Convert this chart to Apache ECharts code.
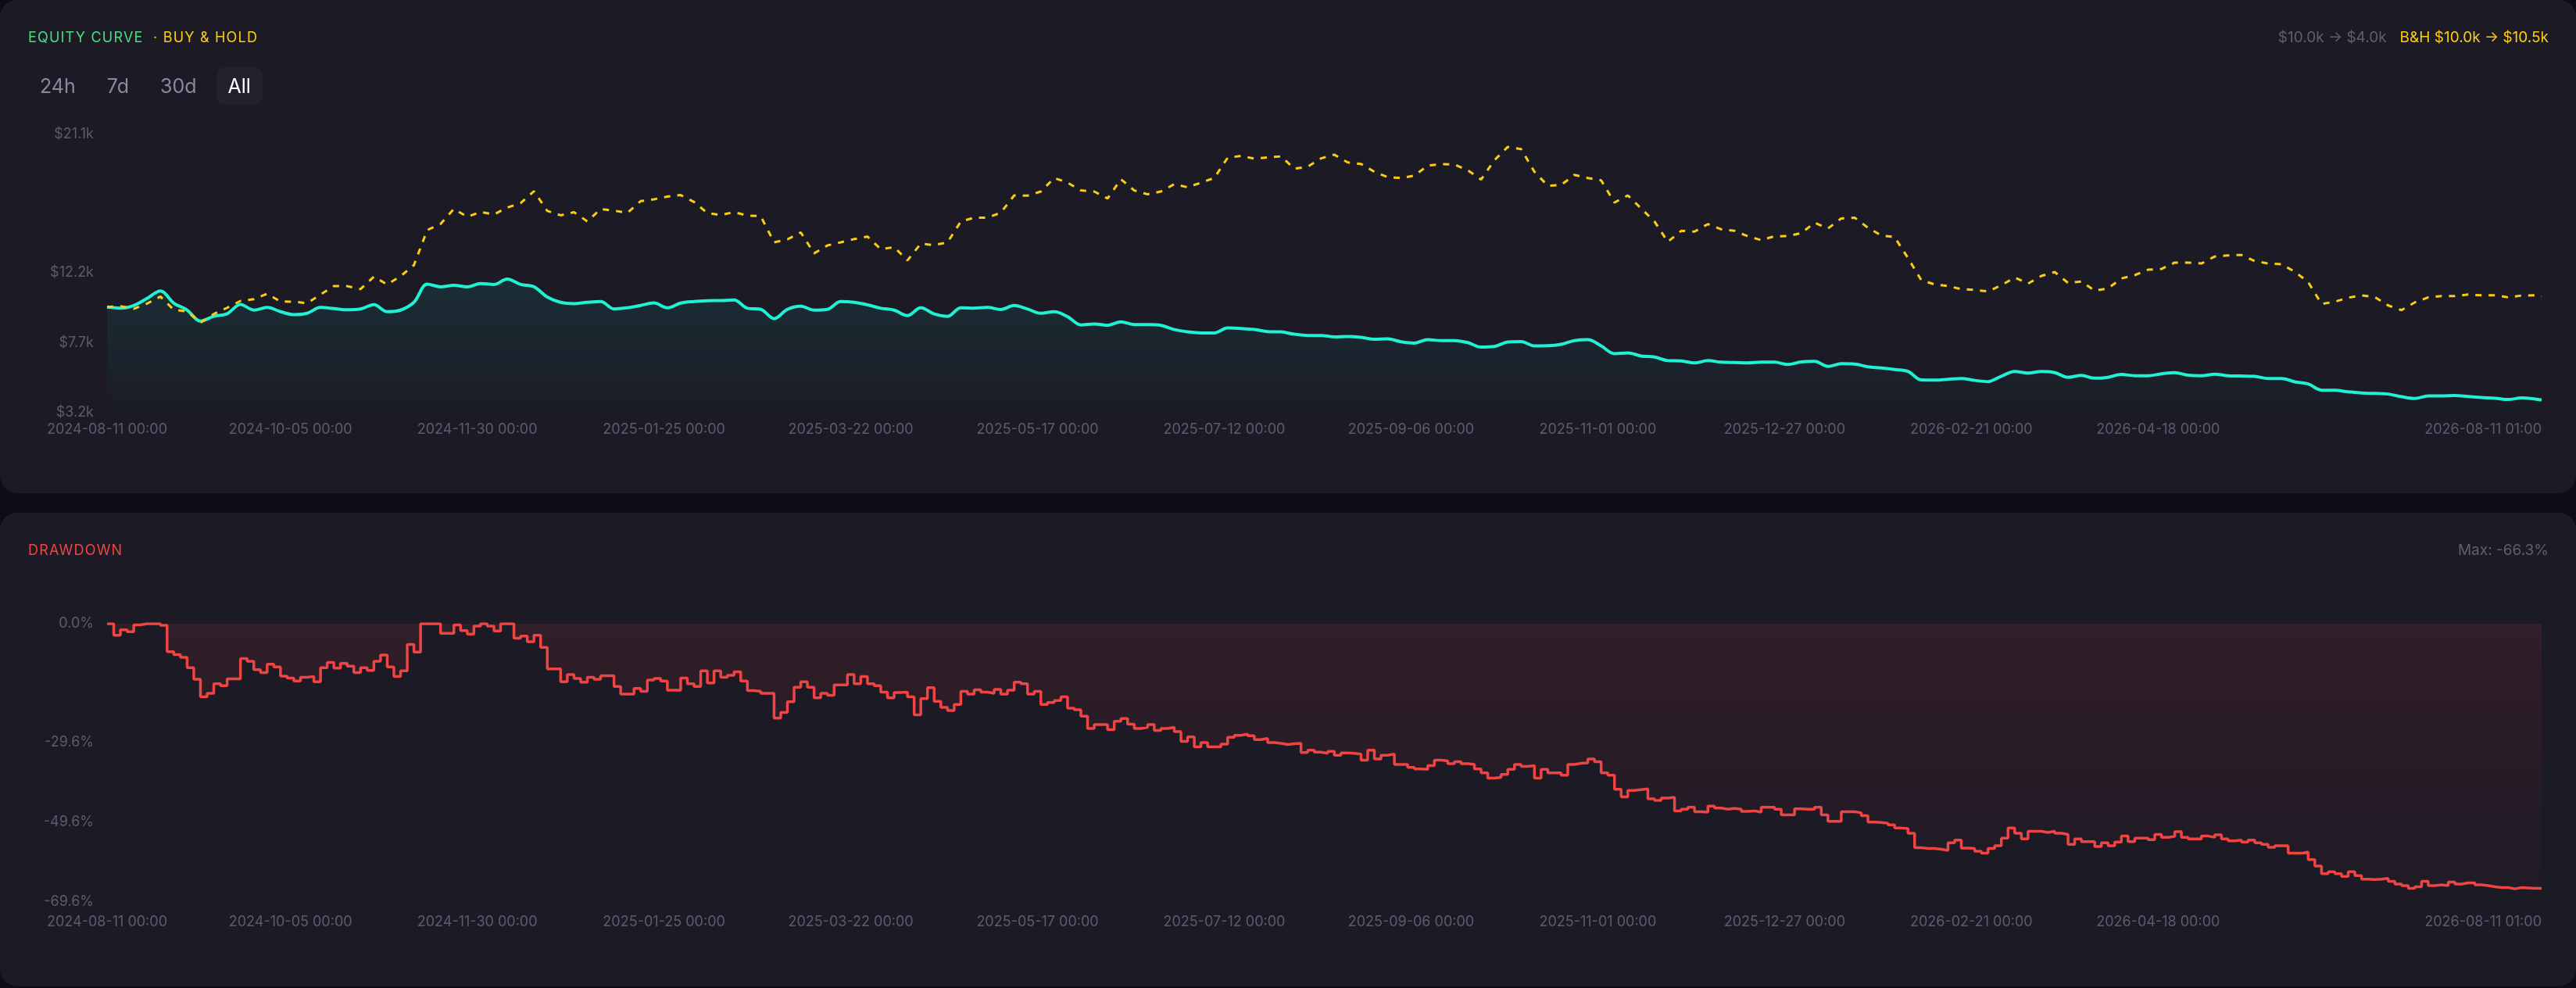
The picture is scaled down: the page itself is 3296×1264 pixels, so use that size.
<!DOCTYPE html>
<html lang="en">
<head>
    <meta charset="UTF-8">
    <title>Equity Curve / Drawdown</title>
    <script src="https://cdn.jsdelivr.net/npm/echarts@6/dist/echarts.min.js"></script>
    <style>
        html, body { margin: 0; padding: 0; background: #0e0d16; }
        body { width: 3296px; height: 1264px; position: relative; overflow: hidden; font-family: Inter, 'Noto Sans', sans-serif; }
        .card { position: absolute; left: 0; width: 3296px; background: #1b1a25; border-radius: 22px; }
        #equityCard { top: 0; height: 631px; }
        #ddCard { top: 656px; height: 606px; }
        .chart { position: absolute; left: 0; top: 0; width: 3296px; height: 100%; }
        .title { position: absolute; left: 36px; top: 36px; line-height: 24px; font-size: 18px; letter-spacing: 1.2px; z-index: 2; }
        .stats { position: absolute; right: 35px; top: 36px; line-height: 24px; font-size: 19px; z-index: 2; color: #5f5e73; }
        .ranges { position: absolute; left: 36px; top: 86px; display: flex; gap: 10px; z-index: 2; }
        .ranges span { height: 48px; line-height: 48px; padding: 0 15px; font-size: 25px; color: #8a88a0; border-radius: 10px; }
        .ranges span.on { background: #22212e; color: #ffffff; }
    </style>
</head>
<body>
    <div class="card" id="equityCard">
        <div class="title"><span style="color:#4ade80">EQUITY CURVE</span><span style="color:#facc15">&nbsp;&nbsp;· BUY &amp; HOLD</span></div>
        <div class="stats">$10.0k → $4.0k<span style="color:#facc15; margin-left:17px">B&amp;H $10.0k → $10.5k</span></div>
        <div class="ranges"><span>24h</span><span>7d</span><span>30d</span><span class="on">All</span></div>
        <div class="chart" id="eqChart"></div>
    </div>
    <div class="card" id="ddCard">
        <div class="title" style="color:#ef4444">DRAWDOWN</div>
        <div class="stats">Max: -66.3%</div>
        <div class="chart" id="ddChart"></div>
    </div>

    <script>
        // x axis: one category per day, 2024-08-11 .. 2026-08-11
        var startDay = Date.UTC(2024, 7, 11);
        var dayCount = 731;
        var labelDays = [0, 55, 111, 167, 223, 279, 335, 391, 447, 503, 559, 615, 730];

        // strategy equity ($k), one value every 4 days, last at day 730
        var equity = [
            10.0, 9.93, 10.1, 10.55, 11.03, 10.25, 9.80, 9.09, 9.40, 9.57,
            10.17, 9.80, 9.97, 9.70, 9.51, 9.60, 9.97, 9.90, 9.82, 9.87,
            10.15, 9.70, 9.80, 10.30, 11.47, 11.30, 11.40, 11.30, 11.51, 11.45,
            11.80, 11.45, 11.30, 10.64, 10.30, 10.22, 10.30, 10.35, 9.88, 9.95,
            10.10, 10.26, 9.95, 10.25, 10.35, 10.40, 10.42, 10.45, 9.92, 9.85,
            9.25, 9.85, 10.05, 9.80, 9.85, 10.35, 10.30, 10.14, 9.92, 9.80,
            9.45, 9.95, 9.55, 9.40, 9.95, 9.93, 9.97, 9.84, 10.10, 9.87,
            9.60, 9.70, 9.38, 8.85, 8.91, 8.82, 9.05, 8.87, 8.87, 8.82,
            8.55, 8.40, 8.33, 8.33, 8.65, 8.62, 8.55, 8.42, 8.40, 8.25,
            8.17, 8.17, 8.08, 8.10, 8.05, 7.93, 7.95, 7.76, 7.68, 7.90,
            7.84, 7.84, 7.71, 7.42, 7.46, 7.75, 7.78, 7.50, 7.51, 7.60,
            7.84, 7.90, 7.50, 7.00, 7.05, 6.85, 6.78, 6.55, 6.53, 6.40,
            6.55, 6.45, 6.43, 6.40, 6.45, 6.45, 6.30, 6.47, 6.50, 6.18,
            6.35, 6.33, 6.15, 6.08, 5.98, 5.86, 5.31, 5.30, 5.35, 5.40,
            5.28, 5.20, 5.55, 5.85, 5.75, 5.85, 5.78, 5.48, 5.60, 5.42,
            5.48, 5.66, 5.58, 5.58, 5.70, 5.78, 5.61, 5.58, 5.68, 5.58,
            5.56, 5.54, 5.40, 5.40, 5.19, 5.05, 4.65, 4.64, 4.55, 4.47,
            4.44, 4.40, 4.23, 4.12, 4.28, 4.28, 4.30, 4.24, 4.18, 4.13,
            4.05, 4.15, 4.08, 4.02
        ];

        // buy & hold ($k), same sampling
        var buyHold = [
            10.0, 10.05, 9.88, 10.22, 10.67, 9.82, 9.72, 8.99, 9.55, 9.95,
            10.39, 10.5, 10.85, 10.35, 10.34, 10.25, 10.80, 11.35, 11.34, 11.15,
            11.95, 11.45, 11.98, 12.69, 14.95, 15.34, 16.31, 15.8, 16.12, 15.95,
            16.4, 16.68, 17.45, 16.18, 15.9, 16.1, 15.51, 16.3, 16.2, 16.05,
            16.81, 16.93, 17.1, 17.2, 16.76, 16.04, 15.92, 16.1, 15.88, 15.84,
            14.16, 14.35, 14.8, 13.45, 13.96, 14.16, 14.37, 14.53, 13.72, 13.85,
            13.0, 14.08, 13.98, 14.16, 15.5, 15.75, 15.75, 16.07, 17.18, 17.16,
            17.43, 18.3, 18.0, 17.5, 17.43, 16.98, 18.22, 17.5, 17.25, 17.43,
            17.9, 17.7, 18.0, 18.3, 19.6, 19.72, 19.55, 19.62, 19.69, 18.9,
            19.02, 19.56, 19.8, 19.3, 19.2, 18.7, 18.35, 18.3, 18.45, 19.1,
            19.19, 19.17, 18.8, 18.2, 19.44, 20.3, 20.16, 18.7, 17.8, 17.85,
            18.5, 18.3, 18.15, 16.72, 17.18, 16.34, 15.5, 14.19, 14.9, 14.85,
            15.33, 15.0, 14.9, 14.55, 14.3, 14.55, 14.56, 14.75, 15.42, 15.05,
            15.7, 15.75, 15.1, 14.6, 14.5, 13.15, 11.73, 11.45, 11.35, 11.15,
            11.1, 11.0, 11.4, 11.9, 11.5, 12.0, 12.25, 11.55, 11.64, 11.05,
            11.2, 11.84, 12.05, 12.4, 12.45, 12.86, 12.85, 12.8, 13.25, 13.32,
            13.35, 12.95, 12.8, 12.75, 12.27, 11.6, 10.2, 10.34, 10.6, 10.75,
            10.64, 10.1, 9.8, 10.3, 10.62, 10.7, 10.7, 10.8, 10.75, 10.76,
            10.62, 10.74, 10.75, 10.67
        ];

        // drawdown (%), one value every 2 days
        var drawdown = [
            0, -2.9, -1.5, -2.0, -0.3, 0, 0, 0, -0.4, -7.0,
            -7.7, -8.4, -11.0, -13.9, -18.3, -17.4, -15.0, -15.5, -13.8, -13.8,
            -8.7, -9.4, -11.5, -12.2, -10.1, -10.8, -13.1, -13.6, -14.3, -13.4,
            -13.2, -14.5, -11.0, -9.7, -11.1, -9.9, -10.6, -12.2, -11.0, -11.7,
            -9.4, -7.8, -10.8, -13.2, -11.8, -5.2, -7.1, 0, 0, 0,
            -2.4, -2.4, -0.3, -1.7, -2.6, -0.6, 0, -0.6, -1.8, 0,
            0, -3.6, -3.1, -4.5, -2.9, -5.9, -11.3, -11.3, -14.5, -12.7,
            -13.7, -14.6, -13.4, -13.9, -13.0, -13.0, -15.7, -17.6, -17.6, -16.2,
            -16.9, -14.1, -13.7, -14.3, -16.6, -16.6, -13.6, -15.0, -15.7, -11.8,
            -14.8, -11.8, -13.4, -12.9, -12.0, -14.3, -16.7, -16.9, -17.4, -17.4,
            -23.6, -22.2, -19.5, -15.9, -14.5, -15.9, -18.5, -17.4, -17.9, -15.3,
            -15.3, -12.7, -15.0, -13.2, -15.0, -15.5, -17.1, -18.5, -17.2, -17.1,
            -18.3, -22.8, -18.7, -16.0, -19.4, -20.9, -21.7, -20.2, -16.9, -17.6,
            -16.5, -17.1, -17.4, -16.4, -17.6, -16.6, -14.6, -15.0, -17.6, -16.9,
            -20.2, -19.7, -19.2, -18.3, -21.1, -21.5, -23.1, -26.2, -25.2, -25.2,
            -26.5, -24.4, -23.7, -25.1, -26.2, -25.9, -25.2, -26.7, -26.2, -25.9,
            -27.0, -29.4, -28.3, -30.8, -29.7, -30.8, -30.8, -30.1, -28.4, -27.9,
            -27.6, -28.0, -29.0, -28.7, -29.7, -29.9, -30.2, -30.0, -29.9, -32.2,
            -31.6, -32.1, -32.4, -31.9, -32.9, -32.3, -32.4, -32.6, -34.1, -31.6,
            -33.8, -32.9, -32.6, -35.2, -35.2, -35.9, -36.3, -36.4, -35.5, -34.1,
            -34.3, -35.0, -34.5, -35.0, -35.2, -36.3, -37.3, -38.6, -38.4, -37.7,
            -36.4, -35.2, -35.7, -35.5, -38.6, -36.4, -37.3, -37.3, -37.9, -35.2,
            -34.9, -34.8, -33.8, -34.5, -37.3, -37.9, -41.4, -43.3, -41.7, -41.5,
            -41.3, -43.8, -44.2, -43.6, -43.4, -46.8, -46.4, -45.9, -47.0, -47.1,
            -45.6, -46.1, -46.4, -46.2, -46.4, -46.9, -46.8, -47.1, -45.9, -45.9,
            -46.4, -47.8, -47.8, -46.3, -46.4, -46.4, -45.9, -47.8, -49.4, -49.4,
            -47.0, -47.0, -47.3, -48.0, -49.6, -49.7, -49.9, -50.3, -51.1, -51.2,
            -52.4, -56.0, -56.2, -56.2, -56.4, -56.7, -54.8, -54.1, -56.1, -56.2,
            -56.9, -57.4, -56.2, -55.5, -53.6, -51.1, -52.4, -53.8, -51.9, -51.9,
            -52.2, -51.9, -52.4, -52.7, -55.2, -53.8, -54.5, -54.5, -55.7, -54.8,
            -55.5, -54.6, -53.1, -54.5, -53.6, -53.6, -54.0, -52.7, -53.4, -53.2,
            -52.0, -53.4, -53.8, -53.8, -53.1, -53.4, -52.8, -53.8, -54.3, -54.1,
            -54.6, -54.1, -54.8, -55.2, -55.9, -55.5, -55.5, -57.4, -57.4, -57.1,
            -59.0, -60.6, -62.5, -62.0, -62.5, -63.2, -62.0, -63.0, -63.9, -64.0,
            -63.9, -63.7, -64.4, -65.1, -65.5, -66.2, -65.8, -64.4, -65.5, -65.3,
            -65.5, -64.6, -65.1, -64.8, -64.8, -65.3, -65.5, -65.8, -66.0, -66.0,
            -66.3, -66.0, -66.1, -66.2, -66.2, -66.2
        ];

        var equityTicks = [3.2, 7.7, 12.2, 21.1];
        var drawdownTicks = [-69.6, -49.6, -29.6, 0];

        function pad(n) { return n < 10 ? '0' + n : '' + n; }

        var dates = [];
        for (var i = 0; i < dayCount; i++) {
            var d = new Date(startDay + i * 86400000);
            var hour = i === dayCount - 1 ? ' 01:00' : ' 00:00';
            dates.push(d.getUTCFullYear() + '-' + pad(d.getUTCMonth() + 1) + '-' + pad(d.getUTCDate()) + hour);
        }

        function toPoints(values, step) {
            return values.map(function (v, i) {
                return [Math.min(i * step, dayCount - 1), v];
            });
        }

        var labelColor = '#5c5b70';

        function xAxisFor(margin) {
            return {
                type: 'category',
                data: dates,
                boundaryGap: false,
                axisLine: { show: false },
                axisTick: { show: false },
                splitLine: { show: false },
                axisLabel: {
                    color: labelColor,
                    fontSize: 18,
                    fontFamily: 'Inter',
                    margin: margin,
                    alignMaxLabel: 'right',
                    interval: function (index) { return labelDays.indexOf(index) >= 0; }
                }
            };
        }

        var eqChart = echarts.init(document.getElementById('eqChart'));
        eqChart.setOption({
            animation: false,
            backgroundColor: 'transparent',
            textStyle: { fontFamily: 'Inter' },
            grid: { left: 137, right: 44, top: 172, height: 356, containLabel: false, outerBoundsMode: 'none' },
            xAxis: xAxisFor(13),
            yAxis: {
                type: 'value',
                min: 3.2,
                max: 21.1,
                axisLine: { show: false },
                axisTick: { show: false },
                splitLine: { show: false },
                axisLabel: {
                    color: labelColor,
                    fontSize: 18,
                    fontFamily: 'Inter',
                    margin: 17,
                    customValues: equityTicks,
                    formatter: function (v) { return '$' + v.toFixed(1) + 'k'; }
                }
            },
            series: [
                {
                    name: 'Equity',
                    type: 'line',
                    data: toPoints(equity, 4),
                    smooth: 0.35,
                    showSymbol: false,
                    lineStyle: { color: '#22f0d2', width: 4 },
                    areaStyle: {
                        color: new echarts.graphic.LinearGradient(0, 0, 0, 1, [
                            { offset: 0, color: 'rgba(34, 240, 210, 0.14)' },
                            { offset: 1, color: 'rgba(34, 240, 210, 0.01)' }
                        ])
                    },
                    z: 2
                },
                {
                    name: 'Buy & Hold',
                    type: 'line',
                    data: toPoints(buyHold, 4),
                    showSymbol: false,
                    lineStyle: { color: '#facc15', width: 3, type: [8, 9] },
                    z: 3
                }
            ]
        });

        var ddChart = echarts.init(document.getElementById('ddChart'));
        ddChart.setOption({
            animation: false,
            backgroundColor: 'transparent',
            textStyle: { fontFamily: 'Inter' },
            grid: { left: 137, right: 44, top: 142, height: 356, containLabel: false, outerBoundsMode: 'none' },
            xAxis: xAxisFor(17),
            yAxis: {
                type: 'value',
                min: -69.6,
                max: 0,
                axisLine: { show: false },
                axisTick: { show: false },
                splitLine: { show: false },
                axisLabel: {
                    color: labelColor,
                    fontSize: 18,
                    fontFamily: 'Inter',
                    margin: 17,
                    customValues: drawdownTicks,
                    formatter: function (v) { return v.toFixed(1) + '%'; }
                }
            },
            series: [
                {
                    name: 'Drawdown',
                    type: 'line',
                    step: 'end',
                    data: toPoints(drawdown, 2),
                    showSymbol: false,
                    lineStyle: { color: '#ef4444', width: 3.5 },
                    areaStyle: {
                        color: new echarts.graphic.LinearGradient(0, 0, 0, 1, [
                            { offset: 0, color: 'rgba(239, 68, 68, 0.15)' },
                            { offset: 1, color: 'rgba(239, 68, 68, 0.03)' }
                        ])
                    }
                }
            ]
        });
    </script>
</body>
</html>
